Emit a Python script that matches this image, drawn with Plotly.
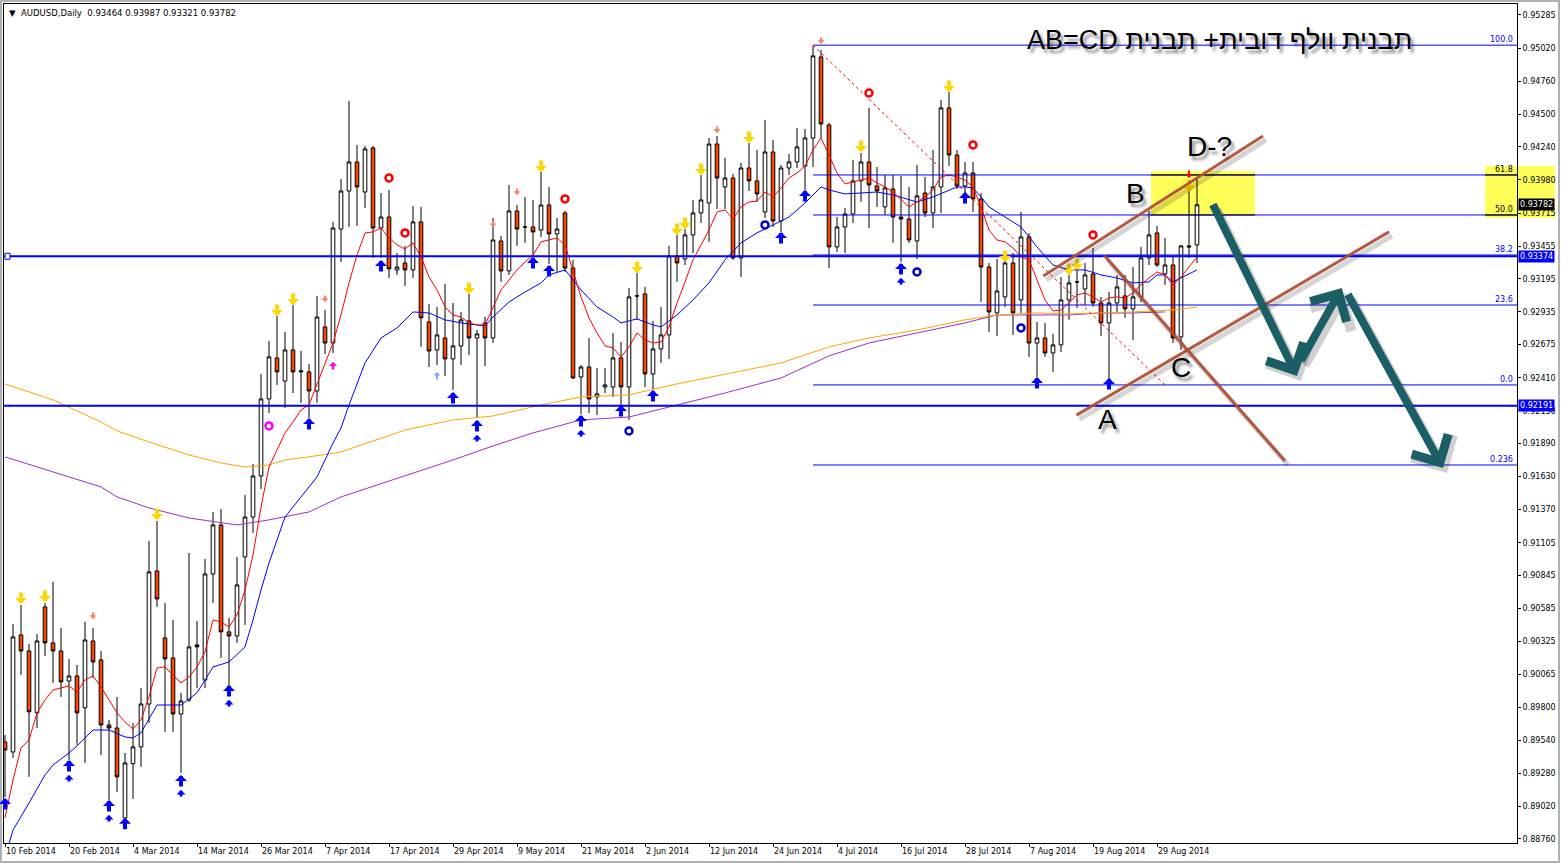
import plotly.graph_objects as go

# AUDUSD daily bars (10 Feb 2014 .. 5 Sep 2014)
opens = [
    0.89527, 0.89448, 0.90375, 0.90248, 0.89758, 0.90597, 0.90312, 0.90248, 0.90010, 0.90050,
    0.89798, 0.90327, 0.90177, 0.89662, 0.89638, 0.88926, 0.89355, 0.89488, 0.89828, 0.90882,
    0.90351, 0.90193, 0.89749, 0.89860, 0.90296, 0.90018, 0.90858, 0.91246, 0.90399, 0.90367,
    0.90993, 0.91309, 0.91634, 0.92244, 0.92569, 0.92386, 0.92632, 0.92458, 0.92458, 0.92307,
    0.92814, 0.92687, 0.93590, 0.93891, 0.94121, 0.93883, 0.94232, 0.93598, 0.93685, 0.93266,
    0.93321, 0.93266, 0.93646, 0.92854, 0.92632, 0.92727, 0.92561, 0.92664, 0.92862, 0.92727,
    0.92846, 0.92727, 0.93495, 0.93258, 0.93733, 0.93606, 0.93606, 0.93582, 0.93780, 0.93551,
    0.93717, 0.93281, 0.92418, 0.92497, 0.92260, 0.92339, 0.92339, 0.92569, 0.92339, 0.93060,
    0.93076, 0.92442, 0.92640, 0.92751, 0.93376, 0.93353, 0.93543, 0.93717, 0.93796, 0.94263,
    0.93923, 0.93994, 0.93361, 0.94073, 0.93971, 0.93725, 0.94200, 0.93654, 0.94073, 0.94121,
    0.94089, 0.94311, 0.94953, 0.94414, 0.93448, 0.93606, 0.93709, 0.93971, 0.94121, 0.93931,
    0.93765, 0.93907, 0.93685, 0.93669, 0.93495, 0.93875, 0.93717, 0.93923, 0.94549, 0.94176,
    0.93931, 0.94034, 0.93828, 0.93289, 0.92925, 0.93052, 0.93321, 0.93028, 0.93527, 0.92687,
    0.92727, 0.92608, 0.92672, 0.93028, 0.93171, 0.93115, 0.93234, 0.93004, 0.92846, 0.93004,
    0.93060, 0.92957, 0.93052, 0.93361, 0.93559, 0.93234, 0.93305, 0.92735, 0.93456, 0.93464,
]
highs = [
    0.89583, 0.90462, 0.90612, 0.90304, 0.90383, 0.90628, 0.90795, 0.90430, 0.90185, 0.90137,
    0.90478, 0.90430, 0.90248, 0.89702, 0.89884, 0.89440, 0.89678, 0.89955, 0.91119, 0.91278,
    0.90628, 0.90494, 0.89916, 0.91024, 0.90486, 0.90977, 0.91349, 0.91373, 0.90509, 0.90993,
    0.91484, 0.91729, 0.92442, 0.92703, 0.92901, 0.92775, 0.92988, 0.92624, 0.92521, 0.93060,
    0.92949, 0.93646, 0.93986, 0.94604, 0.94256, 0.94248, 0.94248, 0.93875, 0.93899, 0.93400,
    0.93456, 0.93772, 0.93765, 0.92996, 0.92973, 0.93155, 0.93004, 0.92933, 0.93076, 0.92790,
    0.92893, 0.93677, 0.93535, 0.93939, 0.93780, 0.93844, 0.93820, 0.94042, 0.93923, 0.93677,
    0.93733, 0.93345, 0.92513, 0.92727, 0.92489, 0.92489, 0.92767, 0.92695, 0.93123, 0.93242,
    0.93131, 0.92862, 0.92973, 0.93456, 0.93543, 0.93590, 0.93820, 0.94018, 0.94311, 0.94327,
    0.94153, 0.94026, 0.94113, 0.94271, 0.94216, 0.94454, 0.94295, 0.94097, 0.94184, 0.94390,
    0.94382, 0.95040, 0.95008, 0.94430, 0.93685, 0.93757, 0.94137, 0.94192, 0.94549, 0.94081,
    0.94018, 0.94018, 0.94010, 0.93923, 0.94097, 0.94002, 0.94216, 0.94612, 0.94675, 0.94216,
    0.94121, 0.94121, 0.93875, 0.93321, 0.93353, 0.93384, 0.93400, 0.93725, 0.93559, 0.92854,
    0.92846, 0.92759, 0.93210, 0.93226, 0.93281, 0.93321, 0.93440, 0.93052, 0.93091, 0.93226,
    0.93226, 0.93289, 0.93448, 0.93733, 0.93614, 0.93519, 0.93369, 0.93464, 0.93978, 0.93987,
]
lows = [
    0.89092, 0.89401, 0.90058, 0.89251, 0.89638, 0.90209, 0.89995, 0.89884, 0.89385, 0.89504,
    0.89361, 0.90034, 0.89424, 0.89068, 0.89131, 0.88886, 0.89076, 0.89330, 0.89678, 0.90597,
    0.89607, 0.89607, 0.89283, 0.89844, 0.89955, 0.89955, 0.90628, 0.90193, 0.89971, 0.90312,
    0.90454, 0.91183, 0.91531, 0.92133, 0.92355, 0.92173, 0.92291, 0.92212, 0.92093, 0.92212,
    0.92600, 0.92608, 0.93329, 0.93606, 0.93614, 0.93757, 0.93361, 0.93361, 0.93202, 0.93226,
    0.93139, 0.93202, 0.92656, 0.92497, 0.92513, 0.92426, 0.92315, 0.92513, 0.92592, 0.92093,
    0.92505, 0.92687, 0.93171, 0.93226, 0.93456, 0.93480, 0.93376, 0.93527, 0.93313, 0.93250,
    0.93250, 0.92402, 0.92125, 0.92133, 0.92117, 0.92291, 0.92260, 0.92196, 0.92078, 0.92870,
    0.92339, 0.92315, 0.92529, 0.92561, 0.93171, 0.93305, 0.93400, 0.93638, 0.93488, 0.93749,
    0.93749, 0.93345, 0.93210, 0.93891, 0.93804, 0.93677, 0.93606, 0.93567, 0.94018, 0.94073,
    0.93899, 0.94081, 0.94311, 0.93281, 0.93408, 0.93400, 0.93638, 0.93804, 0.93598, 0.93765,
    0.93701, 0.93480, 0.93329, 0.93480, 0.93353, 0.93685, 0.93598, 0.93717, 0.94089, 0.93907,
    0.93796, 0.93725, 0.93012, 0.92775, 0.92743, 0.92973, 0.92751, 0.92925, 0.92577, 0.92418,
    0.92577, 0.92458, 0.92616, 0.92870, 0.92965, 0.92988, 0.92973, 0.92743, 0.92394, 0.92933,
    0.92886, 0.92711, 0.93012, 0.93305, 0.93289, 0.93147, 0.92687, 0.92632, 0.93361, 0.93321,
]
closes = [
    0.89464, 0.90359, 0.90248, 0.89766, 0.90327, 0.90312, 0.90248, 0.90003, 0.90050, 0.89758,
    0.90335, 0.90161, 0.89662, 0.89638, 0.89251, 0.89361, 0.89488, 0.89828, 0.90874, 0.90660,
    0.90185, 0.89749, 0.89852, 0.90280, 0.90280, 0.90858, 0.91246, 0.90399, 0.90367, 0.90771,
    0.91309, 0.91634, 0.92244, 0.92577, 0.92458, 0.92632, 0.92458, 0.92466, 0.92307, 0.92893,
    0.92687, 0.93598, 0.93891, 0.94121, 0.93923, 0.94224, 0.93598, 0.93685, 0.93274, 0.93289,
    0.93266, 0.93646, 0.92886, 0.92624, 0.92751, 0.92561, 0.92664, 0.92870, 0.92727, 0.92759,
    0.92727, 0.93503, 0.93258, 0.93733, 0.93590, 0.93606, 0.93567, 0.93780, 0.93551, 0.93590,
    0.93281, 0.92410, 0.92497, 0.92244, 0.92284, 0.92355, 0.92569, 0.92339, 0.93052, 0.93060,
    0.92442, 0.92640, 0.92751, 0.93376, 0.93321, 0.93543, 0.93717, 0.93820, 0.94263, 0.93994,
    0.93994, 0.93361, 0.94073, 0.93971, 0.93868, 0.94200, 0.93654, 0.94073, 0.94121, 0.94240,
    0.94311, 0.94961, 0.94422, 0.93448, 0.93606, 0.93709, 0.93971, 0.94121, 0.93939, 0.93891,
    0.93915, 0.93685, 0.93669, 0.93503, 0.93852, 0.93717, 0.93923, 0.94549, 0.94176, 0.93931,
    0.94034, 0.93828, 0.93289, 0.92933, 0.93099, 0.93321, 0.92925, 0.93527, 0.92687, 0.92727,
    0.92608, 0.92672, 0.93028, 0.93163, 0.93171, 0.93226, 0.93004, 0.92846, 0.93004, 0.93131,
    0.92957, 0.93052, 0.93361, 0.93543, 0.93305, 0.93305, 0.92727, 0.93456, 0.93448, 0.93782,
]
bars = list(range(len(opens)))

date_tick_bars = list(range(0, 145, 8))
date_tick_labels = [
    "10 Feb 2014", "20 Feb 2014", "4 Mar 2014", "14 Mar 2014", "26 Mar 2014", "7 Apr 2014",
    "17 Apr 2014", "29 Apr 2014", "9 May 2014", "21 May 2014", "2 Jun 2014", "12 Jun 2014",
    "24 Jun 2014", "4 Jul 2014", "16 Jul 2014", "28 Jul 2014", "7 Aug 2014", "19 Aug 2014",
    "29 Aug 2014",
]
price_ticks = [
    0.95285, 0.95020, 0.94760, 0.94500, 0.94240, 0.93980, 0.93715, 0.93455, 0.93195, 0.92935,
    0.92675, 0.92410, 0.92150, 0.91890, 0.91630, 0.91370, 0.91105, 0.90845, 0.90585, 0.90325,
    0.90065, 0.89800, 0.89540, 0.89280, 0.89020, 0.88760,
]

# moving averages
ma_red = [
    0.88926, 0.89226, 0.89480, 0.89543, 0.89758, 0.89860, 0.89939, 0.89955, 0.89971, 0.89923,
    0.90018, 0.90050, 0.89963, 0.89860, 0.89758, 0.89686, 0.89630, 0.89702, 0.89884, 0.90113,
    0.90121, 0.90058, 0.89995, 0.90042, 0.90121, 0.90240, 0.90494, 0.90478, 0.90438, 0.90533,
    0.90731, 0.91008, 0.91388, 0.91705, 0.91840, 0.91975, 0.92062, 0.92157, 0.92196, 0.92355,
    0.92529, 0.92687, 0.92909, 0.93163, 0.93384, 0.93559, 0.93567, 0.93598, 0.93519, 0.93464,
    0.93432, 0.93480, 0.93369, 0.93210, 0.93107, 0.92973, 0.92909, 0.92893, 0.92846, 0.92830,
    0.92830, 0.92973, 0.93107, 0.93186, 0.93266, 0.93329, 0.93384, 0.93488, 0.93503, 0.93519,
    0.93464, 0.93266, 0.93052, 0.92886, 0.92767, 0.92664, 0.92648, 0.92577, 0.92656, 0.92767,
    0.92711, 0.92687, 0.92695, 0.92814, 0.93004, 0.93171, 0.93345, 0.93464, 0.93582, 0.93725,
    0.93741, 0.93669, 0.93765, 0.93804, 0.93812, 0.93883, 0.93844, 0.93915, 0.93994, 0.94034,
    0.94089, 0.94216, 0.94311, 0.94176, 0.94034, 0.93947, 0.93963, 0.93978, 0.93994, 0.93955,
    0.93923, 0.93883, 0.93820, 0.93765, 0.93804, 0.93844, 0.93899, 0.94002, 0.94018, 0.94002,
    0.93978, 0.93923, 0.93765, 0.93582, 0.93503, 0.93488, 0.93440, 0.93369, 0.93345, 0.93186,
    0.93028, 0.92941, 0.92949, 0.93004, 0.93068, 0.93083, 0.93052, 0.93012, 0.93044, 0.93052,
    0.93044, 0.93083, 0.93147, 0.93202, 0.93250, 0.93226, 0.93147, 0.93210, 0.93289, 0.93369,
]
ma_blue_bars = [
    0, 1, 3, 5, 6, 8, 9, 11, 13, 15, 16, 17, 19, 21, 22, 24, 26, 28, 30, 31, 32, 33, 35, 37, 39,
    41, 42, 43, 45, 47, 49, 51, 53, 55, 57, 59, 60, 61, 63, 65, 67, 68, 70, 72, 74, 76, 77, 79,
    81, 82, 84, 86, 88, 90, 92, 94, 96, 98, 100, 102, 103, 105, 107, 109, 111, 113, 114, 116,
    118, 119, 120, 121, 122, 123, 125, 127, 129, 131, 133, 135, 137, 139, 141, 143, 144, 145,
    146, 147, 149,
]
ma_blue = [
    0.88609, 0.88830, 0.89044, 0.89266, 0.89345, 0.89440, 0.89496, 0.89622, 0.89622, 0.89567,
    0.89559, 0.89599, 0.89820, 0.89820, 0.89820, 0.89916, 0.90121, 0.90161, 0.90280, 0.90494,
    0.90731, 0.90945, 0.91309, 0.91468, 0.91626, 0.91895, 0.92014, 0.92196, 0.92529, 0.92727,
    0.92806, 0.92933, 0.92925, 0.92870, 0.92846, 0.92830, 0.92822, 0.92893, 0.93012, 0.93091,
    0.93163, 0.93226, 0.93266, 0.93107, 0.92973, 0.92893, 0.92846, 0.92878, 0.92830, 0.92814,
    0.92909, 0.93028, 0.93163, 0.93345, 0.93480, 0.93559, 0.93622, 0.93685, 0.93796, 0.93923,
    0.93899, 0.93868, 0.93875, 0.93883, 0.93860, 0.93820, 0.93804, 0.93844, 0.93899, 0.93923,
    0.93923, 0.93915, 0.93844, 0.93765, 0.93685, 0.93606, 0.93448, 0.93305, 0.93266, 0.93266,
    0.93226, 0.93202, 0.93163, 0.93171, 0.93226, 0.93226, 0.93171, 0.93202, 0.93266,
]
ma_orange_bars = [0, 6, 12, 14, 18, 23, 27, 30, 33, 35, 38, 42, 50, 56, 61, 67, 72, 78, 84, 90,
                  97, 103, 108, 114, 120, 124, 129, 133, 137, 141, 146, 149]
ma_orange = [
    0.92363, 0.92236, 0.92062, 0.91991, 0.91903, 0.91800, 0.91737, 0.91705, 0.91721, 0.91761,
    0.91785, 0.91824, 0.91998, 0.92078, 0.92109, 0.92196, 0.92260, 0.92276, 0.92363, 0.92442,
    0.92529, 0.92656, 0.92727, 0.92790, 0.92870, 0.92909, 0.92925, 0.92917, 0.92925, 0.92933,
    0.92949, 0.92973,
]
ma_purple_bars = [0, 6, 12, 14, 18, 23, 27, 29, 33, 38, 42, 50, 56, 61, 66, 72, 78, 84, 90, 97,
                  103, 108, 114, 120, 124, 129, 133, 137, 141, 145]
ma_purple = [
    0.91785, 0.91666, 0.91547, 0.91468, 0.91381, 0.91301, 0.91262, 0.91246, 0.91286, 0.91349,
    0.91468, 0.91634, 0.91761, 0.91872, 0.91975, 0.92078, 0.92101, 0.92196, 0.92291, 0.92410,
    0.92585, 0.92687, 0.92767, 0.92846, 0.92909, 0.92909, 0.92909, 0.92925, 0.92925, 0.92933,
]

# signal arrows / dots
low_arrow_bars = [0, 8, 13, 15, 22, 28, 38, 47, 56, 59, 66, 68, 72, 77, 81, 97, 100, 112, 120, 129, 138]
low_arrow_prices = [0.89084, 0.89385, 0.89068, 0.88926, 0.89266, 0.89979, 0.92093, 0.93345, 0.92299,
                    0.92078, 0.93369, 0.93305, 0.92117, 0.92196, 0.92315, 0.93567, 0.93899, 0.93321,
                    0.93883, 0.92418, 0.92410]
double_arrow_bars = [8, 13, 22, 28, 59, 72, 112]
high_arrow_bars = [2, 5, 19, 34, 36, 58, 67, 79, 84, 85, 87, 93, 107, 118, 125, 133, 134, 148]
high_arrow_prices = [0.90620, 0.90636, 0.91286, 0.92901, 0.92988, 0.93076, 0.94042, 0.93242, 0.93543,
                     0.93590, 0.94018, 0.94271, 0.94200, 0.94675, 0.93329, 0.93226, 0.93266, 0.93883]
small_arrow_bars = [11, 40, 61, 64, 89, 102]
small_arrow_prices = [0.90502, 0.93012, 0.93606, 0.93860, 0.94351, 0.95056]
red_dot_bars = [48, 50, 70, 108, 121, 136]
red_dot_prices = [0.93994, 0.93559, 0.93828, 0.94667, 0.94256, 0.93543]
blue_dot_bars = [78, 95, 114, 127]
blue_dot_prices = [0.91990, 0.93622, 0.93250, 0.92806]

# horizontal levels and fibonacci
support_levels = [0.93374, 0.92191]
fib_anchor = [(101, 0.95046), (145, 0.92355)]
fib_labels = ["100.0", "61.8", "50.0", "38.2", "23.6", "0.0", "0.236"]
fib_prices = [0.95046, 0.94018, 0.93701, 0.93384, 0.92988, 0.92355, 0.91721]

# hand drawn pattern
channel_lines = [
    (129.6, 0.93210, 157.25, 0.94327),
    (133.75, 0.92109, 173.0, 0.93567),
    (137.25, 0.93392, 160.0, 0.91753),
]
projection_arrows = [
    (150.9, 0.93796, 161.5, 0.92426),
    (161.9, 0.92537, 167.1, 0.93123),
    (167.75, 0.93083, 179.75, 0.91697),
]
point_labels = ["A", "B", "C", "D-?"]
point_bars = [137.75, 141.25, 147.0, 150.6]
point_prices = [0.92080, 0.93870, 0.92490, 0.94245]
zone_bars = [143.25, 156.25]
zone_prices = [0.93701, 0.94050]
title_text = "AB=CD תבנית וולף דובית+ תבנית"

X_RANGE = [-0.125, 189.0]
Y_RANGE = [0.88727, 0.95372]
YELLOW = "#ffff5a"
SHADOW = "3px 4px 3px rgba(0,0,0,0.45)"

fig = go.Figure()

fig.add_trace(go.Candlestick(
    x=bars, open=opens, high=highs, low=lows, close=closes,
    increasing=dict(line=dict(color="black", width=1), fillcolor="white"),
    decreasing=dict(line=dict(color="black", width=1), fillcolor="#ff4500"),
    whiskerwidth=0, hoverinfo="skip", showlegend=False,
))

for xs, ys, col in [(ma_purple_bars, ma_purple, "#9932cc"), (ma_orange_bars, ma_orange, "#ffa500"),
                    (ma_blue_bars, ma_blue, "#0000ff"), (bars, ma_red, "#ff0000")]:
    fig.add_trace(go.Scatter(x=xs, y=ys, mode="lines", line=dict(color=col, width=1),
                             hoverinfo="skip", showlegend=False))

fig.add_trace(go.Scatter(x=red_dot_bars, y=red_dot_prices, mode="markers", hoverinfo="skip",
                         marker=dict(symbol="circle-open", size=7, color="#ff0000", line=dict(width=2.5)),
                         showlegend=False))
fig.add_trace(go.Scatter(x=blue_dot_bars, y=blue_dot_prices, mode="markers", hoverinfo="skip",
                         marker=dict(symbol="circle-open", size=7, color="#0000cc", line=dict(width=2.5)),
                         showlegend=False))
fig.add_trace(go.Scatter(x=[33], y=[0.92030], mode="markers", hoverinfo="skip",
                         marker=dict(symbol="circle-open", size=7, color="#ff00ff", line=dict(width=2.5)),
                         showlegend=False))

# yellow zones
fig.add_shape(type="rect", xref="x", yref="y", x0=zone_bars[0], x1=zone_bars[1],
              y0=zone_prices[0], y1=zone_prices[1], fillcolor=YELLOW, line_width=0, layer="below")
fig.add_shape(type="rect", xref="paper", yref="y", x0=0.9789, x1=1.0251,
              y0=0.93677, y1=0.94089, fillcolor=YELLOW, line_width=0, layer="below")

# fibonacci lines
for lbl, p in zip(fib_labels, fib_prices):
    fig.add_shape(type="line", xref="x", yref="y", x0=fib_anchor[0][0], x1=X_RANGE[1], y0=p, y1=p,
                  line=dict(color="#0000ff", width=1))
    if lbl in ("61.8", "50.0"):
        for x0, x1 in [(zone_bars[0], zone_bars[1]), (185.0, X_RANGE[1])]:
            fig.add_shape(type="line", xref="x", yref="y", x0=x0, x1=x1, y0=p, y1=p,
                          line=dict(color="black", width=1))
fig.add_shape(type="line", xref="x", yref="y", x0=fib_anchor[0][0], y0=fib_anchor[0][1],
              x1=fib_anchor[1][0], y1=fib_anchor[1][1], line=dict(color="#ff0000", width=1, dash="dot"))

for p in support_levels:
    fig.add_shape(type="line", xref="paper", yref="y", x0=0, x1=1, y0=p, y1=p,
                  line=dict(color="#0000ff", width=2))
fig.add_shape(type="rect", xref="paper", yref="y", xsizemode="pixel", ysizemode="pixel",
              xanchor=0, yanchor=support_levels[0], x0=1, x1=6, y0=-3, y1=3,
              fillcolor="white", line=dict(color="#0000ff", width=1))

# outer window frame
fig.add_shape(type="rect", xref="paper", yref="paper", x0=-3 / 1513, x1=1555 / 1513,
              y0=-19 / 839, y1=1 + 3 / 839, line=dict(color="#b0b0b0", width=2))

notes = []


def arrow_note(bar, price, color, up, length=13, width=4, size=0.5, shift=0):
    return dict(x=bar, y=price, xref="x", yref="y", text="", showarrow=True,
                ax=0, ay=length if up else -length, arrowhead=1, arrowsize=size,
                arrowwidth=width, arrowcolor=color, standoff=0, yshift=shift)


def line_note(seg, color, width, head=0, dx=0, dy=0):
    b0, p0, b1, p1 = seg
    return dict(x=b1, y=p1, ax=b0, ay=p0, xref="x", yref="y", axref="x", ayref="y",
                text="", showarrow=True, arrowhead=head, arrowsize=1, arrowwidth=width,
                arrowcolor=color, standoff=0, startstandoff=0, xshift=dx, yshift=dy)


def text_note(x, y, text, size, xref="x", yref="y"):
    return dict(x=x, y=y, xref=xref, yref=yref, text=text, showarrow=False,
                xanchor="center", yanchor="middle",
                font=dict(family="Liberation Sans, Arial", size=size, color="black", shadow=SHADOW))


for b, p in zip(low_arrow_bars, low_arrow_prices):
    notes.append(arrow_note(b, p, "#0000ff", True))
    if b in double_arrow_bars:
        notes.append(arrow_note(b, p, "#0000ff", True, length=8, width=3, size=0.5, shift=-15))
for b, p in zip(high_arrow_bars, high_arrow_prices):
    notes.append(arrow_note(b, p, "#ffd700", False))
for b, p in zip(small_arrow_bars, small_arrow_prices):
    notes.append(arrow_note(b, p, "#ff8060", False, length=8, width=2, size=0.6))
notes.append(arrow_note(41, 0.92537, "#ff00ff", True, length=9, width=2.5, size=0.55))
notes.append(arrow_note(54, 0.92458, "#80a0ff", True, length=9, width=2, size=0.6))
notes.append(arrow_note(148, 0.93994, "#ff0000", False, length=9, width=2, size=0.6))

for seg in channel_lines:
    notes.append(line_note(seg, "rgba(0,0,0,0.16)", 5, dx=3, dy=-4))
    notes.append(line_note(seg, "rgba(176,78,52,0.92)", 3))
for seg in projection_arrows:
    notes.append(line_note(seg, "rgba(0,0,0,0.18)", 9, head=4, dx=4, dy=-5))
    notes.append(line_note(seg, "#1c5e66", 8, head=4))

for lbl, b, p in zip(point_labels, point_bars, point_prices):
    notes.append(text_note(b, p, lbl, 28))
notes.append(text_note(0.8031, 0.9571, title_text, 27, xref="paper", yref="paper"))

for lbl, p in zip(fib_labels, fib_prices):
    notes.append(dict(x=1, y=p, xref="paper", yref="y", text=lbl, showarrow=False,
                      xanchor="right", yanchor="bottom", xshift=-2, yshift=-1,
                      font=dict(family="DejaVu Sans", size=8,
                                color="black" if lbl in ("61.8", "50.0") else "#0000ff")))

for p, bg in [(support_levels[0], "#0000ff"), (support_levels[1], "#0000ff"), (closes[-1], "black")]:
    notes.append(dict(x=1, y=p, xref="paper", yref="y", text=f"{p:.5f}", showarrow=False,
                      xanchor="left", yanchor="middle", xshift=1, bgcolor=bg, borderpad=1,
                      font=dict(family="DejaVu Sans", size=8, color="white")))

header = f"▼  AUDUSD,Daily  {opens[-1]:.5f} {highs[-1]:.5f} {lows[-1]:.5f} {closes[-1]:.5f}"
notes.append(dict(x=0, y=1, xref="paper", yref="paper", text=header, showarrow=False,
                  xanchor="left", yanchor="top", xshift=3, yshift=-2,
                  font=dict(family="DejaVu Sans", size=8.5, color="black")))

fig.update_layout(
    width=1561, height=863,
    margin=dict(l=4, r=44, t=4, b=20),
    paper_bgcolor="white", plot_bgcolor="white",
    showlegend=False, boxgap=0.35,
    font=dict(family="DejaVu Sans", size=8, color="black"),
    annotations=notes,
    xaxis=dict(
        range=X_RANGE, rangeslider=dict(visible=False), showgrid=False, zeroline=False,
        tickvals=date_tick_bars, ticktext=date_tick_labels, ticks="outside", ticklen=3,
        tickcolor="black", ticklabelposition="outside right",
        showline=True, linecolor="black", linewidth=1, mirror=True,
        tickfont=dict(family="DejaVu Sans", size=8, color="black"),
    ),
    yaxis=dict(
        range=Y_RANGE, side="right", showgrid=False, zeroline=False,
        tickvals=price_ticks, ticktext=[f"{p:.5f}" for p in price_ticks],
        ticks="outside", ticklen=3, tickcolor="black",
        showline=True, linecolor="black", linewidth=1, mirror=True,
        tickfont=dict(family="DejaVu Sans", size=8, color="black"),
    ),
)

fig.write_html("out.html", config={"displayModeBar": False},
               post_script="document.body.style.margin='0px';")
